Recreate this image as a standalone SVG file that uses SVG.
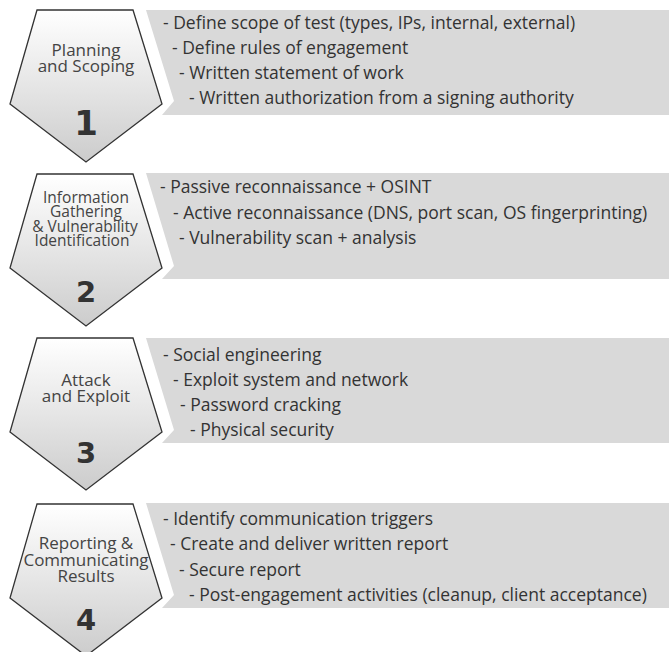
<svg xmlns="http://www.w3.org/2000/svg" width="669" height="652" viewBox="0 0 669 652">
<defs>
<linearGradient id="pg" x1="0" y1="0" x2="0" y2="1">
<stop offset="0" stop-color="#ffffff"/>
<stop offset="1" stop-color="#cccccc"/>
</linearGradient>
<style>
.pent{fill:url(#pg);stroke:#333;stroke-width:1.3;stroke-linejoin:miter}
.panel{fill:#d9d9d9}
.pt{font-family:"Open Sans","Noto Sans",sans-serif;font-size:17px;fill:#444;text-anchor:middle}
.pt2{font-family:"Open Sans","Noto Sans",sans-serif;font-size:15.5px;fill:#444;text-anchor:middle}
.num{font-family:"DejaVu Sans",sans-serif;font-weight:bold;fill:#333;text-anchor:middle}
.lt{font-family:"Open Sans","Noto Sans",sans-serif;font-size:17.5px;fill:#333}
</style>
</defs>
<rect width="669" height="652" fill="#fff"/>

<g id="step1">
<polygon class="panel" points="146,10 669,10 669,115 162,115 174,101"/>
<polygon class="pent" points="37,10 133,10 162,104 86,162 10,104"/>
<text class="pt" x="86" y="56">Planning</text>
<text class="pt" x="86" y="72">and Scoping</text>
<text class="num" x="86" y="135" font-size="34">1</text>
<text class="lt" x="163" y="29">- Define scope of test (types, IPs, internal, external)</text>
<text class="lt" x="172" y="54">- Define rules of engagement</text>
<text class="lt" x="179" y="79">- Written statement of work</text>
<text class="lt" x="189" y="104">- Written authorization from a signing authority</text>
</g>

<g id="step2">
<polygon class="panel" points="146,173 669,173 669,279 162,279 174,266"/>
<polygon class="pent" points="37,174 133,174 162,268 86,326 10,268"/>
<text class="pt2" x="86" y="203">Information</text>
<text class="pt2" x="86" y="217">Gathering</text>
<text class="pt2" x="85" y="232">&amp; Vulnerability</text>
<text class="pt2" x="82" y="246">Identification</text>
<text class="num" x="86" y="302" font-size="29">2</text>
<text class="lt" x="160" y="193">- Passive reconnaissance + OSINT</text>
<text class="lt" x="173" y="219">- Active reconnaissance (DNS, port scan, OS fingerprinting)</text>
<text class="lt" x="179" y="244">- Vulnerability scan + analysis</text>
</g>

<g id="step3">
<polygon class="panel" points="146,338 669,338 669,443 162,443 174,430"/>
<polygon class="pent" points="37,338 133,338 162,432 86,490 10,432"/>
<text class="pt" x="86" y="386">Attack</text>
<text class="pt" x="86" y="402">and Exploit</text>
<text class="num" x="86" y="463" font-size="29">3</text>
<text class="lt" x="163" y="361">- Social engineering</text>
<text class="lt" x="173" y="386">- Exploit system and network</text>
<text class="lt" x="180" y="411">- Password cracking</text>
<text class="lt" x="190" y="436">- Physical security</text>
</g>

<g id="step4">
<polygon class="panel" points="146,503 669,503 669,608 162,608 174,595"/>
<polygon class="pent" points="37,504 133,504 162,598 86,656 10,598"/>
<text class="pt" x="86" y="549">Reporting &amp;</text>
<text class="pt" x="86" y="566">Communicating</text>
<text class="pt" x="86" y="582">Results</text>
<text class="num" x="86" y="630" font-size="29">4</text>
<text class="lt" x="163" y="525">- Identify communication triggers</text>
<text class="lt" x="170" y="550">- Create and deliver written report</text>
<text class="lt" x="179" y="576">- Secure report</text>
<text class="lt" x="189" y="601">- Post-engagement activities (cleanup, client acceptance)</text>
</g>

<g id="connectors"/>
</svg>
